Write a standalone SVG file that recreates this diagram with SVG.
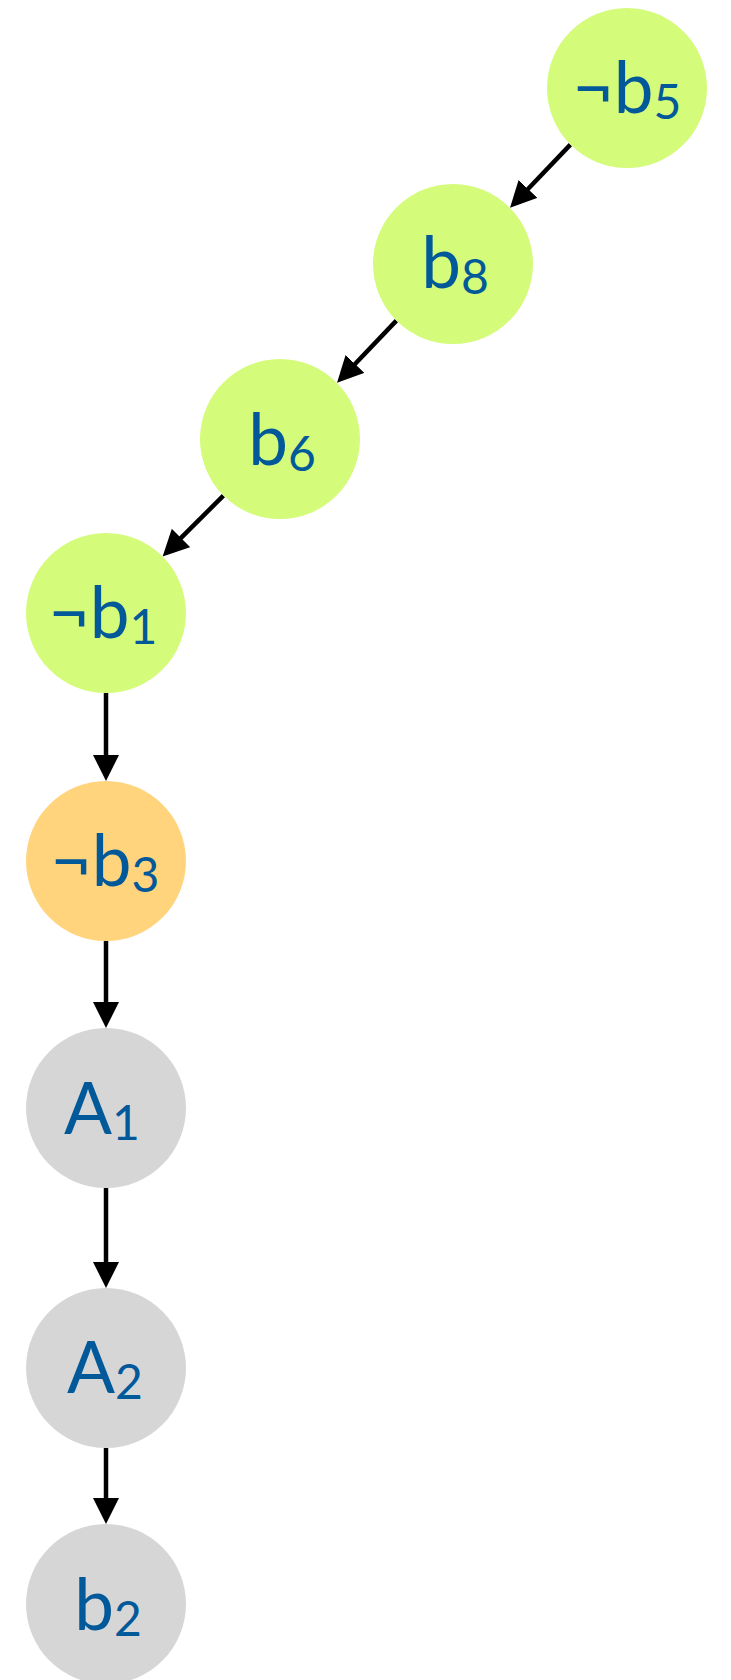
<svg xmlns="http://www.w3.org/2000/svg" width="731" height="1680" viewBox="0 0 731 1680">
<style>
.n circle{stroke:none}
.g{fill:#D5FB7A}
.o{fill:#FFD47D}
.s{fill:#D6D6D6}
text{font-family:Lato,"Open Sans","Liberation Sans",sans-serif;font-size:71px;fill:#02599A;text-anchor:middle}
.sub{font-size:48px}
.e{stroke:#000;stroke-width:4.5;fill:none;marker-end:url(#ah)}
</style>
<defs>
<marker id="ah" markerUnits="userSpaceOnUse" markerWidth="26" markerHeight="26" viewBox="0 0 26 26" refX="1" refY="13" orient="auto">
<path d="M0,0 L26,13 L0,26 Z" fill="#000"/>
</marker>
</defs>
<rect width="731" height="1680" fill="#fff"/>
<g id="edges">
<line class="e" x1="570.4" y1="144.6" x2="527.3" y2="189.7"/>
<line class="e" x1="396.4" y1="320.6" x2="354.3" y2="364.7"/>
<line class="e" x1="223.4" y1="495.6" x2="180.3" y2="538.7"/>
<line class="e" x1="106" y1="693" x2="106" y2="756"/>
<line class="e" x1="106" y1="941" x2="106" y2="1003"/>
<line class="e" x1="106" y1="1188" x2="106" y2="1263"/>
<line class="e" x1="106" y1="1448" x2="106" y2="1499"/>
</g>
<g id="n_not_b5" class="n"><circle class="g" cx="627" cy="88" r="80"/><text x="627" y="113">¬b<tspan class="sub" dy="6">5</tspan></text></g>
<g id="n_b8" class="n"><circle class="g" cx="453" cy="264" r="80"/><text x="455" y="288">b<tspan class="sub" dy="6">8</tspan></text></g>
<g id="n_b6" class="n"><circle class="g" cx="280" cy="439" r="80"/><text x="282" y="465">b<tspan class="sub" dy="6">6</tspan></text></g>
<g id="n_not_b1" class="n"><circle class="g" cx="106" cy="613" r="80"/><text x="103" y="638">¬b<tspan class="sub" dy="6">1</tspan></text></g>
<g id="n_not_b3" class="n"><circle class="o" cx="106" cy="861" r="80"/><text x="105" y="886">¬b<tspan class="sub" dy="6">3</tspan></text></g>
<g id="n_A1" class="n"><circle class="s" cx="106" cy="1108" r="80"/><text x="102" y="1134">A<tspan class="sub" dy="6">1</tspan></text></g>
<g id="n_A2" class="n"><circle class="s" cx="106" cy="1368" r="80"/><text x="105" y="1393">A<tspan class="sub" dy="6">2</tspan></text></g>
<g id="n_b2" class="n"><circle class="s" cx="106" cy="1604" r="80"/><text x="108" y="1630">b<tspan class="sub" dy="6">2</tspan></text></g>
</svg>
